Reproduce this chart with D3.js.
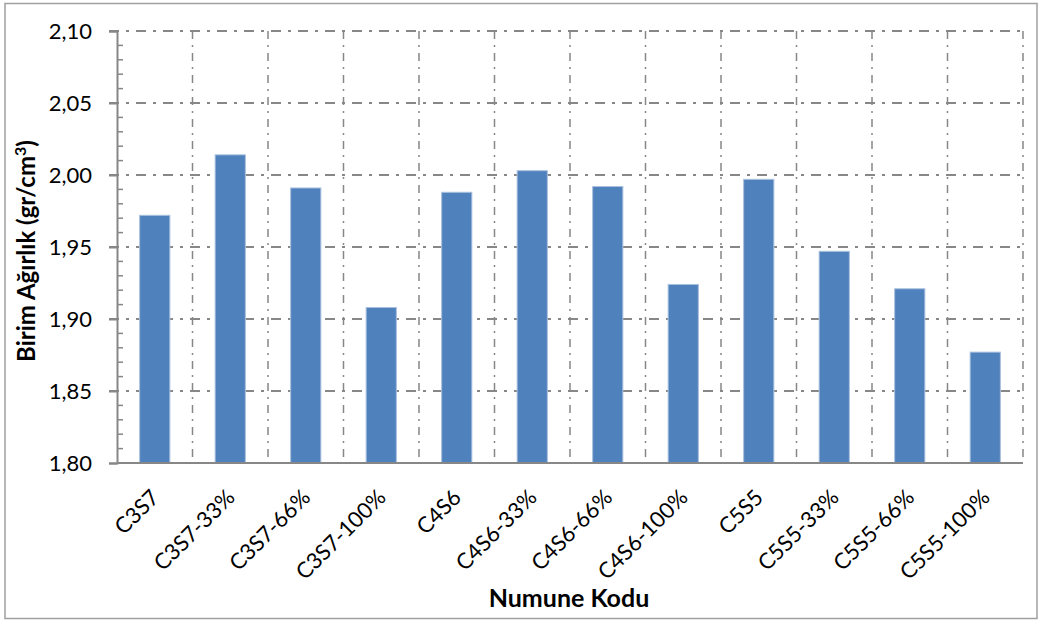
<!DOCTYPE html>
<html>
<head>
<meta charset="utf-8">
<script src="https://cdn.jsdelivr.net/npm/d3@7"></script>
<style>
  html, body { margin: 0; padding: 0; background: #fff; }
  svg { display: block; font-family: Lato, "Open Sans", sans-serif; }
</style>
</head>
<body>
<svg id="chart" width="1043" height="622"></svg>
<script>
// Sample codes and their unit weights (gr/cm³)
const categories = ["C3S7", "C3S7-33%", "C3S7-66%", "C3S7-100%",
                    "C4S6", "C4S6-33%", "C4S6-66%", "C4S6-100%",
                    "C5S5", "C5S5-33%", "C5S5-66%", "C5S5-100%"];
const values = [1.972, 2.014, 1.991, 1.908,
                1.988, 2.003, 1.992, 1.924,
                1.997, 1.947, 1.921, 1.877];
const yTicks = [1.80, 1.85, 1.90, 1.95, 2.00, 2.05, 2.10];
const yMinorTicks = d3.range(181, 210).map(v => v / 100);

const svg = d3.select("#chart");
const plot = { left: 117, right: 1023, top: 31, bottom: 463 };
const gridColor = "#878787";

// Outer frame
svg.append("rect")
  .attr("x", 5).attr("y", 3.5).attr("width", 1032).attr("height", 615)
  .attr("fill", "#fff").attr("stroke", "#a0a0a0").attr("stroke-width", 1.5);

const x = d3.scaleBand().domain(categories)
  .range([plot.left, plot.right]).paddingInner(0.6).paddingOuter(0.3);
const y = d3.scaleLinear().domain([1.80, 2.10]).range([plot.bottom, plot.top]);

const step = (plot.right - plot.left) / categories.length;

// Horizontal gridlines
svg.append("g").selectAll("line")
  .data(yTicks.slice(1))
  .join("line")
  .attr("x1", plot.left - 8).attr("x2", plot.right)
  .attr("y1", d => y(d)).attr("y2", d => y(d))
  .attr("stroke", gridColor).attr("stroke-width", 2)
  .attr("stroke-dasharray", "10,7,3,7");

// Vertical gridlines at category boundaries
svg.append("g").selectAll("line")
  .data(d3.range(1, categories.length + 1))
  .join("line")
  .attr("x1", i => plot.left + i * step).attr("x2", i => plot.left + i * step)
  .attr("y1", plot.top).attr("y2", plot.bottom)
  .attr("stroke", gridColor).attr("stroke-width", 1.5)
  .attr("stroke-dasharray", "8,6,2,6");

// Bars
svg.append("g").selectAll("rect")
  .data(categories.map((c, i) => ({ c, v: values[i] })))
  .join("rect")
  .attr("x", d => x(d.c))
  .attr("width", x.bandwidth())
  .attr("y", d => y(d.v))
  .attr("height", d => y(1.80) - y(d.v))
  .attr("fill", "#4f81bd")
  .attr("stroke", "#a9c0de").attr("stroke-width", 1);

// Y axis: major ticks outward, minor ticks inward
const yAxis = svg.append("g").attr("transform", `translate(${plot.left},0)`)
  .call(d3.axisLeft(y).tickValues(yTicks).tickSize(8).tickPadding(17)
    .tickFormat(d => d3.format(".2f")(d).replace(".", ",")));
yAxis.select(".domain").attr("stroke", gridColor).attr("stroke-width", 2);
yAxis.selectAll(".tick line").attr("stroke", gridColor).attr("stroke-width", 2);
yAxis.selectAll(".tick text").attr("font-size", 22).attr("fill", "#000")
  .attr("font-family", "Lato, sans-serif");

svg.append("g").selectAll("line")
  .data(yMinorTicks.filter(v => !yTicks.some(t => Math.abs(t - v) < 1e-9)))
  .join("line")
  .attr("x1", plot.left).attr("x2", plot.left + 6)
  .attr("y1", d => y(d)).attr("y2", d => y(d))
  .attr("stroke", gridColor).attr("stroke-width", 1.5);

// X axis line
svg.append("line")
  .attr("x1", plot.left).attr("x2", plot.right)
  .attr("y1", plot.bottom).attr("y2", plot.bottom)
  .attr("stroke", gridColor).attr("stroke-width", 2);

// Category labels, rotated
svg.append("g").selectAll("text")
  .data(categories)
  .join("text")
  .attr("transform", d => `translate(${x(d) + x.bandwidth() / 2 - 5},${plot.bottom + 25}) rotate(-45)`)
  .attr("text-anchor", "end")
  .attr("dy", "0.7em")
  .attr("font-size", 22)
  .attr("fill", "#000")
  .text(d => d);

// Axis titles
svg.append("text")
  .attr("x", 569).attr("y", 607)
  .attr("text-anchor", "middle").attr("font-size", 25).attr("font-weight", "bold")
  .text("Numune Kodu");

const yTitle = svg.append("text")
  .attr("transform", `translate(35,251) rotate(-90)`)
  .attr("text-anchor", "middle").attr("font-size", 24).attr("font-weight", "bold");
yTitle.append("tspan").text("Birim Ağırlık (gr/cm");
yTitle.append("tspan").attr("font-size", 16).attr("dy", -9).text("3");
yTitle.append("tspan").attr("dy", 9).text(")");
</script>
</body>
</html>
